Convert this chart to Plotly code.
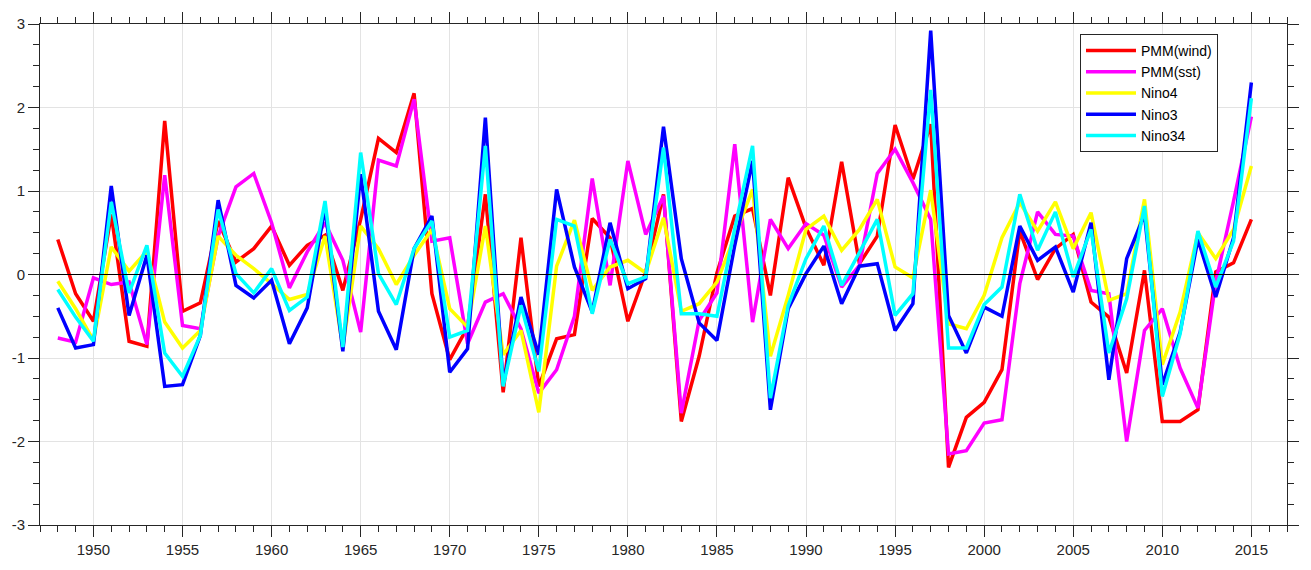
import plotly.graph_objects as go

years = list(range(1948, 2016))

pmm_wind = [0.42, -0.23, -0.56, 0.72, -0.80, -0.86, 1.84, -0.44, -0.34, 0.64,
            0.15, 0.31, 0.58, 0.11, 0.35, 0.47, -0.19, 0.66, 1.63, 1.46,
            2.17, -0.23, -1.02, -0.63, 0.96, -1.41, 0.44, -1.34, -0.77, -0.72,
            0.67, 0.44, -0.56, 0.03, 0.96, -1.76, -0.98, 0.02, 0.70, 0.79,
            -0.25, 1.16, 0.56, 0.11, 1.35, 0.13, 0.46, 1.79, 1.14, 1.80,
            -2.31, -1.71, -1.53, -1.14, 0.52, -0.06, 0.31, 0.48, -0.33, -0.51,
            -1.18, 0.05, -1.76, -1.76, -1.62, 0.03, 0.14, 0.66]

pmm_sst = [-0.76, -0.81, -0.04, -0.12, -0.09, -0.84, 1.19, -0.61, -0.65, 0.46,
           1.05, 1.21, 0.62, -0.16, 0.27, 0.62, 0.17, -0.69, 1.37, 1.30,
           2.10, 0.40, 0.44, -0.83, -0.33, -0.23, -0.65, -1.42, -1.14, -0.50,
           1.15, -0.13, 1.36, 0.48, 0.94, -1.66, -0.55, -0.22, 1.56, -0.57,
           0.66, 0.31, 0.61, 0.47, -0.15, 0.11, 1.21, 1.50, 1.10, 0.66,
           -2.15, -2.11, -1.78, -1.74, -0.11, 0.75, 0.48, 0.46, -0.19, -0.23,
           -2.00, -0.67, -0.41, -1.12, -1.60, -0.09, 0.88, 1.89]

nino4 = [-0.08, -0.41, -0.79, 0.33, 0.04, 0.28, -0.57, -0.88, -0.67, 0.46,
         0.23, 0.07, -0.11, -0.30, -0.24, 0.46, -0.87, 0.58, 0.31, -0.12,
         0.23, 0.54, -0.41, -0.63, 0.58, -0.96, -0.67, -1.65, 0.10, 0.65,
         -0.19, 0.09, 0.17, 0.02, 0.68, -0.44, -0.35, -0.09, 0.46, 1.02,
         -0.98, -0.25, 0.54, 0.70, 0.29, 0.54, 0.90, 0.09, -0.04, 1.01,
         -0.59, -0.65, -0.25, 0.44, 0.86, 0.52, 0.87, 0.31, 0.74, -0.31,
         -0.23, 0.90, -1.08, -0.45, 0.50, 0.19, 0.54, 1.30]

nino3 = [-0.40, -0.88, -0.84, 1.06, -0.49, 0.23, -1.34, -1.32, -0.73, 0.89,
         -0.13, -0.28, -0.07, -0.83, -0.40, 0.80, -0.92, 1.20, -0.44, -0.90,
         0.31, 0.70, -1.17, -0.89, 1.88, -1.32, -0.27, -0.96, 1.02, 0.09,
         -0.45, 0.62, -0.17, -0.05, 1.77, 0.19, -0.58, -0.79, 0.35, 1.36,
         -1.62, -0.41, 0.01, 0.34, -0.35, 0.10, 0.13, -0.67, -0.35, 2.92,
         -0.49, -0.94, -0.39, -0.50, 0.58, 0.17, 0.33, -0.21, 0.62, -1.26,
         0.19, 0.72, -1.32, -0.69, 0.42, -0.27, 0.44, 2.30]

nino34 = [-0.18, -0.51, -0.80, 0.87, -0.22, 0.35, -0.94, -1.22, -0.73, 0.78,
          0.01, -0.22, 0.07, -0.43, -0.27, 0.88, -0.87, 1.46, 0.01, -0.36,
          0.31, 0.64, -0.75, -0.67, 1.54, -1.34, -0.37, -1.16, 0.66, 0.58,
          -0.47, 0.42, -0.11, -0.03, 1.52, -0.47, -0.47, -0.50, 0.55, 1.54,
          -1.48, -0.37, 0.19, 0.58, -0.13, 0.27, 0.66, -0.49, -0.23, 2.21,
          -0.88, -0.88, -0.36, -0.15, 0.96, 0.29, 0.75, -0.03, 0.54, -0.94,
          -0.29, 0.82, -1.46, -0.71, 0.52, -0.15, 0.40, 2.11]

series = [
    ("PMM(wind)", pmm_wind, "#FF0000"),
    ("PMM(sst)", pmm_sst, "#FF00FF"),
    ("Nino4", nino4, "#FFFF00"),
    ("Nino3", nino3, "#0000FF"),
    ("Nino34", nino34, "#00FFFF"),
]

x_major = list(range(1950, 2016, 5))
y_major = [-3, -2, -1, 0, 1, 2, 3]
y_labels = [str(v) for v in y_major]

fig = go.Figure()
for name, vals, color in series:
    fig.add_trace(go.Scatter(x=years, y=vals, mode="lines", name=name,
                             line=dict(color=color, width=3.5)))

# reference line at zero, drawn over the series
fig.add_hline(y=0, line=dict(color="black", width=1.2), layer="above")

axis_col = "#262626"
fig.update_xaxes(
    range=[1947, 2017], tickmode="array", tickvals=x_major,
    ticks="outside", ticklen=11, tickwidth=1, tickcolor=axis_col,
    showline=True, linecolor=axis_col, linewidth=1, mirror="allticks",
    showgrid=True, gridcolor="#e3e3e3", gridwidth=1, zeroline=False,
    minor=dict(tickmode="array", tickvals=list(range(1947, 2018)),
               ticks="outside", ticklen=6, tickcolor=axis_col, showgrid=False),
    tickfont=dict(size=15, color=axis_col),
)
fig.update_yaxes(
    range=[-3, 3], tickmode="array", tickvals=y_major, ticktext=y_labels,
    ticks="outside", ticklen=11, tickwidth=1, tickcolor=axis_col,
    showline=True, linecolor=axis_col, linewidth=1, mirror="allticks",
    showgrid=True, gridcolor="#e3e3e3", gridwidth=1, zeroline=False,
    minor=dict(dtick=0.25, ticks="outside", ticklen=6, tickcolor=axis_col,
               showgrid=False),
    tickfont=dict(size=15, color=axis_col),
)

fig.update_layout(
    width=1311, height=570,
    margin=dict(l=40, r=18, t=23, b=42),
    paper_bgcolor="white", plot_bgcolor="white",
    font=dict(family="Liberation Sans, Arial, sans-serif", size=15, color="black"),
    legend=dict(x=0.834, y=0.98, xanchor="left", yanchor="top",
                bgcolor="white", bordercolor="#262626", borderwidth=1,
                font=dict(size=14, color="black"), tracegroupgap=0,
                itemwidth=50),
    showlegend=True,
)

fig.write_html("out.html")
